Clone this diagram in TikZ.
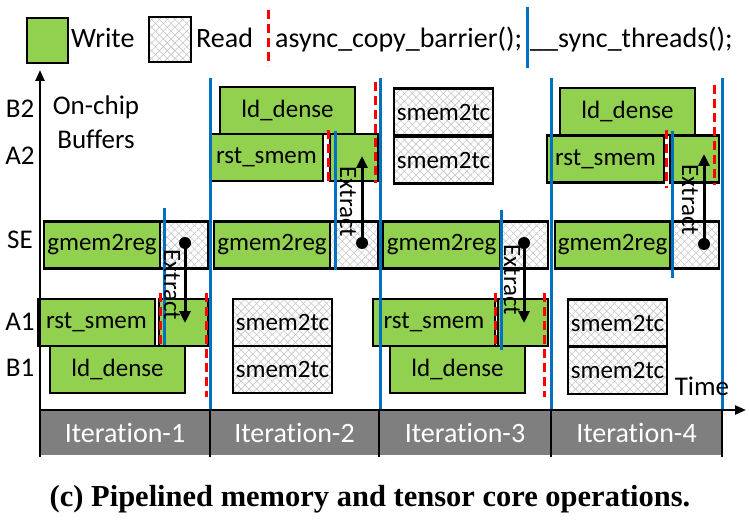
\documentclass[tikz,border=0pt]{standalone}
\usepackage{fontspec}
\setmainfont{Carlito}[Ligatures=NoCommon]
\newfontfamily\capfont{Liberation Serif}
\usetikzlibrary{patterns.meta,arrows.meta}
\definecolor{wgreen}{HTML}{92D050}
\definecolor{sblue}{HTML}{0070C0}
\definecolor{bargray}{HTML}{7F7F7F}
\tikzset{
  wbox/.style={draw,line width=2.6pt,fill=wgreen,inner sep=0pt,minimum height=47pt,font=\fontsize{25}{25}\selectfont},
  rbox/.style={draw,line width=2.6pt,inner sep=0pt,minimum height=47pt,font=\fontsize{25}{25}\selectfont,
    preaction={fill=white},
    preaction={pattern={Lines[angle=45,distance=5.5pt,line width=0.6pt]},pattern color=black!22},
    preaction={pattern={Lines[angle=-45,distance=5.5pt,line width=0.6pt]},pattern color=black!22}},
  syncln/.style={sblue,line width=3pt},
  barrln/.style={red,line width=3pt,dash pattern=on 9pt off 5pt},
  extr/.style={line width=3pt,-{Triangle[length=12pt,width=11pt]}},
  dotn/.style={circle,fill=black,inner sep=0pt,minimum size=12pt},
  axisln/.style={line width=2.4pt,-{Triangle[length=11pt,width=9pt]}},
  rowlbl/.style={font=\fontsize{27}{27}\selectfont,inner sep=0pt},
  leglbl/.style={font=\fontsize{28}{28}\selectfont,inner sep=0pt,anchor=base west},
  extlbl/.style={rotate=-90,font=\fontsize{25}{25}\selectfont,inner sep=0pt},
  itlbl/.style={white,font=\fontsize{28}{28}\selectfont,inner sep=0pt},
}
\begin{document}
\begin{tikzpicture}[x=1pt,y=-1pt]
\useasboundingbox (0,0) rectangle (749,529);
% legend
\node[wbox,minimum width=41pt,minimum height=45pt] (lw) at (47.5,40.5) {};
\node[leglbl] (lwt) at (71,48) {Write};
\node[rbox,minimum width=42pt,minimum height=45pt] (lr) at (170,39.5) {};
\node[leglbl] (lrt) at (196,48) {Read};
\draw[barrln] (268,10) -- (268,66);
\node[leglbl] (lbar) at (275,48) {async\_copy\_barrier();};
\draw[syncln] (527,7) -- (527,68);
\node[leglbl] (lsync) at (530,48) {\_\_sync\_threads();};
% row labels
\node[rowlbl] (rb2) at (20,109) {B2};
\node[rowlbl] (ra2) at (20,156) {A2};
\node[rowlbl] (rse) at (20,240) {SE};
\node[rowlbl] (ra1) at (20,322) {A1};
\node[rowlbl] (rb1) at (20,368) {B1};
\node[rowlbl,align=center] (buf) at (96,122) {On-chip\\[7pt]Buffers};
% iteration 1
\node[wbox,minimum width=116pt] (se1w) at (102,245) {gmem2reg};
\node[rbox,minimum width=48pt] (se1r) at (184,245) {};
\node[wbox,minimum width=117pt] (a1w1) at (96.5,322.5) {rst\_smem};
\node[wbox,minimum width=49pt] (a1x1) at (183.5,322.5) {};
\node[wbox,minimum width=135pt] (b1i1) at (117.5,369.5) {ld\_dense};
% iteration 2
\node[wbox,minimum width=135pt] (b2i2) at (287.5,110.5) {ld\_dense};
\node[wbox,minimum width=113pt] (a2w2) at (266.5,157.5) {rst\_smem};
\node[wbox,minimum width=48pt] (a2x2) at (354,157.5) {};
\node[wbox,minimum width=116pt] (se2w) at (272,245) {gmem2reg};
\node[rbox,minimum width=48pt] (se2r) at (354,245) {};
\node[rbox,minimum width=99pt] (a1i2) at (282.5,322.5) {smem2tc};
\node[rbox,minimum width=99pt] (b1i2) at (282.5,369.5) {smem2tc};
% iteration 3
\node[rbox,minimum width=99pt] (b2i3) at (443.5,112) {smem2tc};
\node[rbox,minimum width=99pt] (a2i3) at (443.5,160) {smem2tc};
\node[wbox,minimum width=117pt] (se3w) at (441.5,245) {gmem2reg};
\node[rbox,minimum width=48pt] (se3r) at (524,245) {};
\node[wbox,minimum width=122pt] (a1w3) at (434,322.5) {rst\_smem};
\node[wbox,minimum width=50pt] (a1x3) at (523,322.5) {};
\node[wbox,minimum width=135pt] (b1i3) at (457.5,369.5) {ld\_dense};
% iteration 4
\node[wbox,minimum width=135pt] (b2i4) at (627.5,111.5) {ld\_dense};
\node[wbox,minimum width=117pt] (a2w4) at (605.5,159) {rst\_smem};
\node[wbox,minimum width=49pt] (a2x4) at (694.5,159) {};
\node[wbox,minimum width=115pt] (se4w) at (612.5,245) {gmem2reg};
\node[rbox,minimum width=49pt] (se4r) at (694.5,245) {};
\node[rbox,minimum width=99pt] (a1i4) at (617.5,323) {smem2tc};
\node[rbox,minimum width=99pt] (b1i4) at (617.5,370.5) {smem2tc};
% barriers
\draw[barrln] (160,293) -- (160,348);
\draw[barrln] (206,293) -- (206,397);
\draw[barrln] (328,130) -- (328,185);
\draw[barrln] (375,82) -- (375,183);
\draw[barrln] (495,293) -- (495,348);
\draw[barrln] (544,293) -- (544,397);
\draw[barrln] (666,130) -- (666,188);
\draw[barrln] (714,85) -- (714,185);
% sync threads
\foreach \x in {210,380,551,722} \draw[syncln] (\x,78) -- (\x,410);
\draw[syncln] (164,208) -- (164,345);
\draw[syncln] (335,131) -- (335,270);
\draw[syncln] (501,210) -- (501,350);
\draw[syncln] (672,131) -- (672,278);
% extract
\node[dotn] (d1) at (185,243) {};
\coordinate (e1) at (185,323);
\draw[extr] (d1.center) -- (e1);
\node[extlbl] (x1) at (172,285) {Extract};
\node[dotn] (d2) at (362,243) {};
\coordinate (e2) at (362,156);
\draw[extr] (d2.center) -- (e2);
\node[extlbl] (x2) at (348,202) {Extract};
\node[dotn] (d3) at (524,243) {};
\coordinate (e3) at (524,323);
\draw[extr] (d3.center) -- (e3);
\node[extlbl] (x3) at (512,280) {Extract};
\node[dotn] (d4) at (704,244) {};
\coordinate (e4) at (704,154);
\draw[extr] (d4.center) -- (e4);
\node[extlbl] (x4) at (690,200) {Extract};
% axes and iterations
\fill[bargray] (40,410) rectangle (722,455);
\foreach \x in {210,379,551,722} \draw[line width=2.4pt] (\x,410) -- (\x,457);
\draw[axisln] (40,457) -- (40,70);
\draw[axisln] (40,410) -- (746,410);
\foreach \c/\k in {125/1,294.5/2,465/3,636.5/4} \node[itlbl] (it\k) at (\c,433) {Iteration-\k};
\node[rowlbl] (time) at (702,386) {Time};
\node[font=\capfont\bfseries\fontsize{30.5}{30.5}\selectfont,inner sep=0pt] (cap) at (370,499) {(c) Pipelined memory and tensor core operations.};
\end{tikzpicture}
\end{document}
